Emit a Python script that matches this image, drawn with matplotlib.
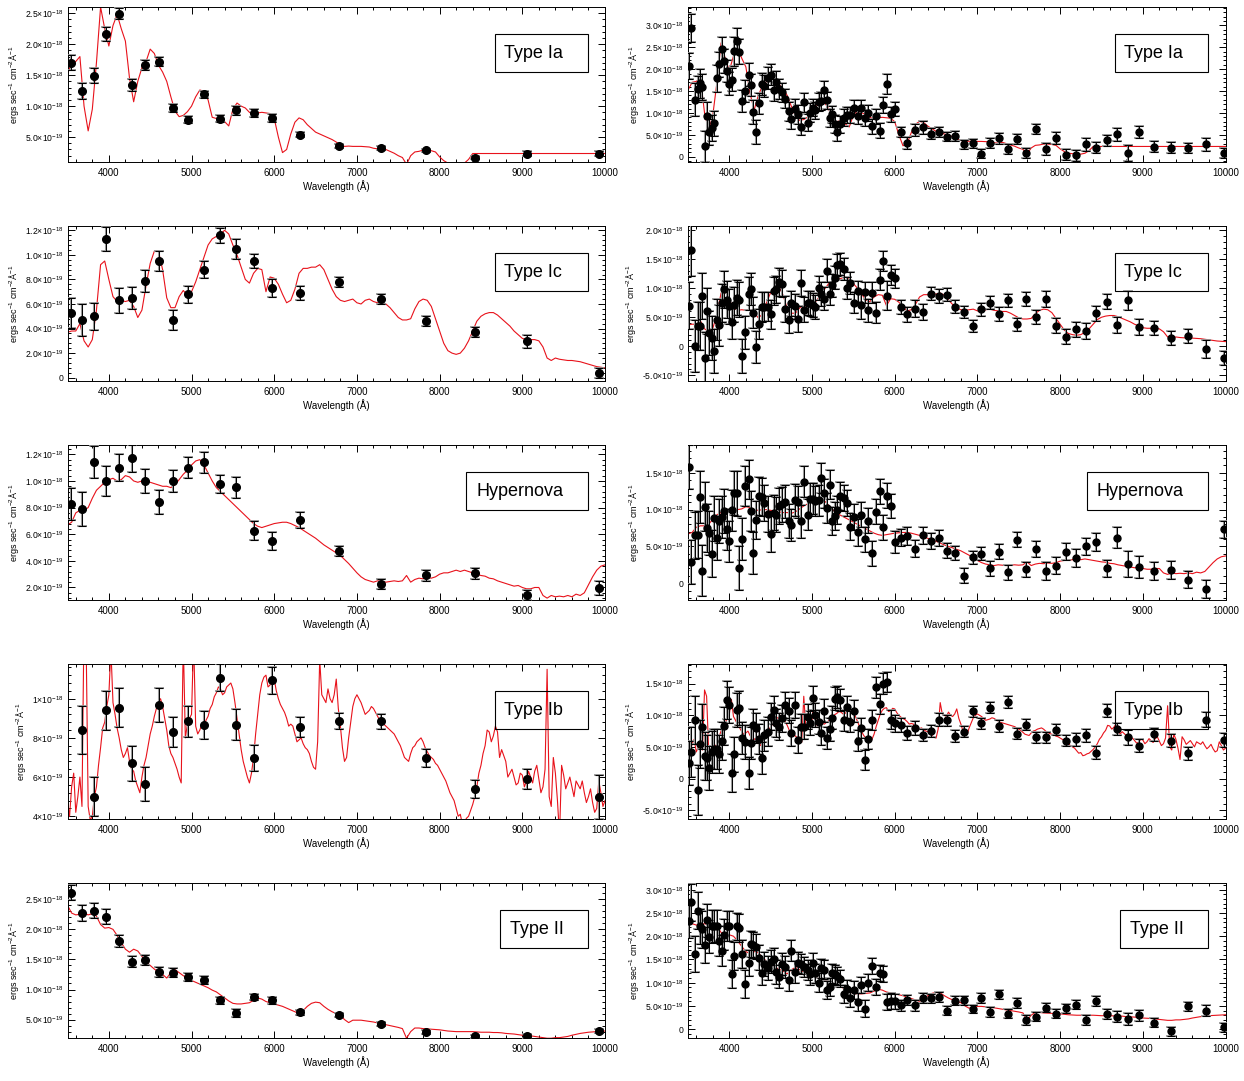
import matplotlib
matplotlib.use('Agg')
import numpy as np
import matplotlib.pyplot as plt
from matplotlib.ticker import MultipleLocator, FuncFormatter
from matplotlib.patches import Rectangle

plt.rcParams['font.family'] = ['Liberation Sans', 'DejaVu Sans']
plt.rcParams['mathtext.fontset'] = 'custom'
plt.rcParams['mathtext.rm'] = 'Liberation Sans'
plt.rcParams['mathtext.it'] = 'Liberation Sans:italic'

# all fluxes in units of 1e-18 ergs/s/cm^2/A

# ---- model spectra, sampled every 50 A from 3500 to 10000 ----
wl_model = list(range(3500, 10001, 50))
# the noisy Ib spectrum also has the in-between samples (3525, 3575, ...)
wl_model_mid = list(range(3525, 10000, 50))

model_ia = [1.52, 1.70, 1.72, 1.80, 1.00, 0.60, 0.95, 1.70, 2.60, 2.25,
            1.97, 2.30, 2.48, 2.25, 2.05, 1.45, 1.07, 1.40, 1.62, 1.72,
            1.92, 1.85, 1.66, 1.55, 1.40, 1.15, 0.92, 0.83, 0.85, 0.91,
            1.00, 1.15, 1.26, 1.24, 1.10, 0.82, 0.80, 0.83, 0.75, 0.68,
            0.95, 1.05, 1.00, 0.97, 0.90, 0.86, 0.89, 0.90, 0.89, 0.88,
            0.80, 0.50, 0.25, 0.30, 0.55, 0.74, 0.81, 0.78, 0.70, 0.64,
            0.58, 0.55, 0.52, 0.49, 0.46, 0.42, 0.37, 0.35, 0.355, 0.35,
            0.35, 0.35, 0.345, 0.34, 0.32, 0.31, 0.33, 0.30, 0.27, 0.24,
            0.20, 0.17, 0.06, 0.20, 0.26, 0.27, 0.29, 0.29, 0.28, 0.26,
            0.18, 0.12, 0.08, 0.07, 0.06, 0.06, 0.08, 0.14, 0.235, 0.235,
            0.235, 0.235, 0.235, 0.235, 0.235, 0.235, 0.235, 0.235, 0.235, 0.235,
            0.235, 0.235, 0.235, 0.235, 0.235, 0.235, 0.235, 0.235, 0.235, 0.235,
            0.235, 0.235, 0.235, 0.235, 0.235, 0.235, 0.235, 0.235, 0.235, 0.235,
            0.235]

model_ic = [0.37, 0.38, 0.38, 0.44, 0.30, 0.25, 0.31, 0.55, 0.92, 0.95,
            0.80, 0.66, 0.62, 0.63, 0.62, 0.63, 0.58, 0.49, 0.55, 0.75,
            0.93, 1.03, 1.03, 0.88, 0.65, 0.57, 0.57, 0.66, 0.71, 0.67,
            0.70, 0.78, 0.88, 0.98, 1.08, 1.13, 1.15, 1.17, 1.20, 1.17,
            1.08, 1.00, 0.90, 0.80, 0.77, 0.85, 0.89, 0.88, 0.70, 0.82,
            0.81, 0.76, 0.68, 0.61, 0.63, 0.72, 0.85, 0.89, 0.89, 0.90,
            0.90, 0.92, 0.88, 0.80, 0.72, 0.66, 0.63, 0.62, 0.63, 0.64,
            0.61, 0.60, 0.63, 0.64, 0.62, 0.61, 0.60, 0.60, 0.57, 0.53,
            0.49, 0.47, 0.47, 0.48, 0.56, 0.62, 0.64, 0.63, 0.58, 0.48,
            0.38, 0.28, 0.22, 0.20, 0.19, 0.20, 0.24, 0.30, 0.38, 0.46,
            0.50, 0.52, 0.53, 0.53, 0.51, 0.48, 0.45, 0.42, 0.38, 0.35,
            0.32, 0.31, 0.31, 0.31, 0.30, 0.25, 0.16, 0.14, 0.16, 0.15,
            0.145, 0.14, 0.14, 0.135, 0.13, 0.12, 0.11, 0.10, 0.09, 0.085,
            0.08]

model_hn = [0.67, 0.69, 0.76, 0.78, 0.78, 0.80, 0.87, 0.93, 0.96, 0.99,
            1.01, 1.02, 1.00, 1.01, 1.04, 1.03, 1.00, 0.99, 1.00, 1.00,
            0.99, 0.98, 0.97, 0.96, 0.96, 0.95, 0.97, 1.01, 1.05, 1.08,
            1.12, 1.15, 1.16, 1.12, 1.06, 1.00, 0.95, 0.92, 0.89, 0.86,
            0.83, 0.80, 0.77, 0.74, 0.71, 0.68, 0.66, 0.65, 0.66, 0.67,
            0.68, 0.685, 0.69, 0.69, 0.68, 0.665, 0.65, 0.63, 0.61, 0.59,
            0.57, 0.545, 0.52, 0.50, 0.48, 0.46, 0.44, 0.41, 0.38, 0.345,
            0.31, 0.28, 0.26, 0.25, 0.24, 0.25, 0.245, 0.24, 0.245, 0.25,
            0.245, 0.25, 0.29, 0.24, 0.26, 0.27, 0.265, 0.275, 0.27, 0.28,
            0.30, 0.31, 0.31, 0.32, 0.33, 0.32, 0.33, 0.32, 0.31, 0.30,
            0.29, 0.285, 0.27, 0.265, 0.25, 0.24, 0.23, 0.22, 0.21, 0.215,
            0.20, 0.19, 0.19, 0.20, 0.20, 0.14, 0.12, 0.14, 0.13, 0.135,
            0.13, 0.14, 0.13, 0.15, 0.14, 0.16, 0.22, 0.28, 0.33, 0.36,
            0.37]

model_ib = [0.48, 0.55, 0.42, 0.60, 1.40, 0.45, 0.40, 0.55, 0.75, 0.88,
            1.02, 0.98, 0.85, 0.74, 0.72, 0.68, 0.63, 0.55, 0.60, 0.70,
            0.82, 0.91, 0.98, 0.96, 0.84, 0.72, 0.67, 0.60, 1.30, 0.87,
            0.92, 0.86, 0.84, 0.86, 0.91, 0.97, 1.03, 1.05, 1.03, 1.07,
            1.05, 0.90, 0.74, 0.64, 0.57, 0.70, 0.92, 1.08, 1.12, 1.07,
            1.10, 1.00, 0.95, 0.90, 0.87, 0.82, 0.79, 0.77, 0.74, 0.68,
            0.64, 1.20, 1.00, 1.05, 0.98, 1.10, 0.86, 0.68, 0.80, 0.96,
            1.02, 0.98, 0.92, 0.94, 0.95, 0.91, 0.88, 0.86, 0.84, 0.82,
            0.78, 0.73, 0.69, 0.72, 0.76, 0.79, 0.78, 0.73, 0.70, 0.67,
            0.64, 0.60, 0.55, 0.50, 0.44, 0.41, 0.37, 0.40, 0.46, 0.55,
            0.66, 0.76, 0.83, 0.81, 0.83, 0.74, 0.68, 0.62, 0.60, 0.57,
            0.61, 0.58, 0.60, 0.63, 0.59, 0.55, 1.15, 0.45, 0.62, 0.30,
            0.61, 0.57, 0.55, 0.58, 0.54, 0.52, 0.50, 0.47, 0.44, 0.52,
            0.48]
model_ib_mid = [0.40, 0.62, 0.50, 0.45, 1.30, 0.38, 0.50, 0.66, 0.85, 0.96,
                1.25, 0.92, 0.80, 0.70, 0.75, 0.64, 0.58, 0.52, 0.66, 0.76,
                0.86, 0.95, 1.00, 0.90, 0.76, 0.70, 0.64, 0.57, 0.80, 0.90,
                1.30, 0.82, 0.87, 0.89, 0.95, 1.01, 1.06, 1.02, 1.06, 1.08,
                0.98, 0.82, 0.68, 0.60, 0.62, 0.82, 1.02, 1.11, 1.06, 1.11,
                1.04, 0.97, 0.93, 0.86, 0.86, 0.78, 0.80, 0.75, 0.72, 0.65,
                0.78, 1.02, 0.98, 1.00, 1.02, 0.95, 0.75, 0.70, 0.88, 1.00,
                1.00, 0.95, 0.93, 0.96, 0.93, 0.89, 0.87, 0.85, 0.83, 0.80,
                0.76, 0.70, 0.68, 0.75, 0.78, 0.80, 0.75, 0.71, 0.69, 0.66,
                0.62, 0.58, 0.52, 0.48, 0.40, 0.36, 0.39, 0.43, 0.50, 0.62,
                0.72, 0.84, 0.78, 0.86, 0.70, 0.71, 0.60, 0.64, 0.56, 0.62,
                0.55, 0.63, 0.57, 0.66, 0.52, 0.64, 0.50, 0.70, 0.48, 0.66,
                0.54, 0.60, 0.50, 0.56, 0.58, 0.47, 0.54, 0.42, 0.58, 0.45]

model_ii = [2.40, 2.27, 2.24, 2.25, 2.27, 2.24, 2.26, 2.22, 2.08, 2.02,
            2.03, 2.00, 1.90, 1.78, 1.67, 1.62, 1.67, 1.64, 1.55, 1.46,
            1.40, 1.34, 1.29, 1.25, 1.19, 1.28, 1.33, 1.28, 1.23, 1.19,
            1.15, 1.12, 1.09, 1.06, 1.03, 0.99, 0.96, 0.91, 0.86, 0.81,
            0.77, 0.76, 0.76, 0.77, 0.78, 0.82, 0.86, 0.84, 0.80, 0.78,
            0.76, 0.74, 0.72, 0.69, 0.66, 0.63, 0.60, 0.65, 0.72, 0.77,
            0.79, 0.78, 0.72, 0.67, 0.63, 0.60, 0.57, 0.50, 0.45, 0.49,
            0.49, 0.49, 0.48, 0.47, 0.46, 0.445, 0.43, 0.415, 0.40, 0.385,
            0.37, 0.35, 0.19, 0.30, 0.36, 0.36, 0.35, 0.345, 0.34, 0.335,
            0.33, 0.32, 0.31, 0.305, 0.30, 0.30, 0.30, 0.30, 0.30, 0.295,
            0.29, 0.29, 0.29, 0.285, 0.285, 0.28, 0.27, 0.265, 0.26, 0.25,
            0.24, 0.235, 0.23, 0.22, 0.21, 0.20, 0.19, 0.19, 0.20, 0.20,
            0.21, 0.22, 0.24, 0.255, 0.27, 0.28, 0.29, 0.295, 0.30, 0.305,
            0.31]

# ---- broad-band photometry (left column) ----
wl_broad = [3545, 3680, 3823, 3967, 4120, 4277, 4435, 4603, 4775, 4962, 5148,
            5344, 5541, 5751, 5967, 6306, 6780, 7287, 7837, 8426, 9057, 9923]

ia_l_flux = [1.70, 1.25, 1.49, 2.16, 2.49, 1.34, 1.66, 1.72, 0.97, 0.78, 1.19,
             0.80, 0.93, 0.89, 0.81, 0.54, 0.355, 0.32, 0.285, 0.17, 0.23, 0.23]
ia_l_err = [0.12, 0.13, 0.12, 0.11, 0.09, 0.09, 0.08, 0.08, 0.07, 0.06, 0.06,
            0.06, 0.07, 0.06, 0.06, 0.04, 0.03, 0.03, 0.03, 0.03, 0.04, 0.04]

ic_l_flux = [0.527, 0.47, 0.50, 1.13, 0.63, 0.65, 0.79, 0.95, 0.47, 0.68, 0.88,
             1.16, 1.05, 0.95, 0.73, 0.69, 0.78, 0.64, 0.46, 0.37, 0.295, 0.035]
ic_l_err = [0.12, 0.13, 0.11, 0.10, 0.10, 0.09, 0.09, 0.08, 0.08, 0.07, 0.07,
            0.06, 0.08, 0.06, 0.07, 0.06, 0.04, 0.04, 0.04, 0.04, 0.05, 0.04]

hn_l_flux = [0.826, 0.79, 1.14, 1.00, 1.10, 1.17, 1.00, 0.84, 1.00, 1.10, 1.14,
             0.976, 0.953, 0.627, 0.55, 0.71, 0.475, 0.225, 0.29, 0.307, 0.144, 0.195]
hn_l_err = [0.12, 0.13, 0.12, 0.11, 0.10, 0.10, 0.09, 0.09, 0.08, 0.08, 0.08,
            0.07, 0.08, 0.07, 0.07, 0.06, 0.04, 0.04, 0.04, 0.04, 0.04, 0.05]

ib_l_flux = [np.nan, 0.84, 0.50, 0.94, 0.954, 0.67, 0.563, 0.967, 0.83, 0.885, 0.864,
             1.108, 0.868, 0.696, 1.095, 0.856, 0.885, 0.885, 0.696, 0.538, 0.589, 0.498]
ib_l_err = [0.0, 0.123, 0.10, 0.10, 0.10, 0.09, 0.086, 0.085, 0.077, 0.08, 0.071,
            0.07, 0.08, 0.067, 0.069, 0.05, 0.04, 0.038, 0.045, 0.045, 0.05, 0.11]

ii_l_flux = [2.61, 2.27, 2.31, 2.21, 1.81, 1.46, 1.49, 1.29, 1.28, 1.21, 1.16,
             0.82, 0.61, 0.87, 0.82, 0.62, 0.58, 0.43, 0.29, 0.22, 0.23, 0.31]
ii_l_err = [0.12, 0.13, 0.12, 0.12, 0.10, 0.09, 0.09, 0.08, 0.08, 0.07, 0.07,
            0.06, 0.06, 0.05, 0.06, 0.04, 0.03, 0.03, 0.03, 0.02, 0.03, 0.03]

# ---- narrow-band photometry (right column) ----
wl_narrow_blue = [3515, 3540, 3585, 3615, 3645, 3674, 3700, 3726, 3755, 3787,
                  3820, 3847, 3876, 3908, 3940, 3968, 4001, 4029, 4062, 4090,
                  4122, 4159, 4191, 4232, 4264, 4292, 4324, 4361, 4393, 4422,
                  4462, 4503, 4535, 4568, 4604, 4636, 4677, 4717, 4750, 4790,
                  4826, 4867, 4907, 4948, 4980, 5013, 5041, 5081, 5110, 5142,
                  5182, 5215, 5243, 5275, 5303, 5344, 5384, 5425, 5465, 5506,
                  5554, 5594, 5639, 5679, 5728, 5768, 5821, 5862, 5902, 5959,
                  6003, 6072]
wl_narrow_red = [6149, 6245, 6341, 6438, 6534, 6635, 6731, 6837, 6942, 7043,
                 7154, 7260, 7370, 7476, 7587, 7707, 7827, 7947, 8067, 8188,
                 8312, 8437, 8567, 8688, 8822, 8957, 9130, 9337, 9543, 9764, 9986]

ia_r_flux = [2.08, 2.95, 1.30, 1.55, 1.68, 1.60, 0.24, 0.92, 0.56, 0.66,
             0.76, 1.79, 2.11, 2.46, 2.19, 1.96, 1.67, 1.76, 2.41, 2.64,
             2.40, 1.28, 1.50, 1.87, 1.63, 1.02, 0.57, 1.22, 1.66, 1.61,
             1.79, 1.87, 1.53, 1.71, 1.54, 1.47, 1.33, 1.04, 0.86, 1.10,
             0.97, 0.69, 1.24, 0.78, 1.01, 1.12, 1.06, 1.25, 1.28, 1.52,
             1.29, 0.89, 0.97, 0.75, 0.56, 0.74, 0.89, 0.95, 0.95, 1.12,
             0.93, 1.12, 0.89, 1.00, 0.70, 0.92, 0.59, 1.18, 1.66, 0.97,
             1.08, 0.56,
             0.31, 0.61, 0.67, 0.53, 0.57, 0.46, 0.47, 0.28, 0.31, 0.07,
             0.32, 0.42, 0.18, 0.40, 0.08, 0.63, 0.17, 0.43, 0.05, 0.03,
             0.28, 0.21, 0.375, 0.51, 0.09, 0.57, 0.23, 0.21, 0.20, 0.28, 0.08]
ia_r_err = [0.30, 0.32, 0.38, 0.30, 0.33, 0.30, 0.35, 0.33, 0.30, 0.30,
            0.28, 0.30, 0.28, 0.27, 0.28, 0.25, 0.27, 0.26, 0.33, 0.30,
            0.28, 0.25, 0.25, 0.26, 0.25, 0.28, 0.27, 0.24, 0.26, 0.25,
            0.25, 0.24, 0.25, 0.24, 0.23, 0.22, 0.22, 0.22, 0.22, 0.22,
            0.22, 0.20, 0.22, 0.20, 0.21, 0.20, 0.20, 0.21, 0.21, 0.20,
            0.20, 0.20, 0.19, 0.20, 0.20, 0.19, 0.19, 0.18, 0.19, 0.18,
            0.19, 0.18, 0.18, 0.18, 0.17, 0.17, 0.17, 0.18, 0.23, 0.17,
            0.16, 0.12,
            0.13, 0.14, 0.14, 0.12, 0.12, 0.11, 0.11, 0.11, 0.10, 0.11,
            0.11, 0.12, 0.11, 0.11, 0.12, 0.12, 0.14, 0.13, 0.13, 0.13,
            0.14, 0.13, 0.13, 0.14, 0.18, 0.14, 0.12, 0.12, 0.12, 0.15, 0.12]

ic_r_flux = [0.70, 1.66, 0.00, 0.35, 0.35, 0.87, -0.20, 0.61, 0.23, 0.14,
             -0.09, 0.46, 0.36, 0.75, 0.98, 0.80, 0.69, 0.42, 0.72, 0.84,
             0.80, -0.17, 0.24, 0.91, 0.99, 0.58, -0.01, 0.39, 0.68, 0.68,
             0.68, 0.55, 0.95, 0.98, 1.11, 1.08, 0.64, 0.45, 0.74, 0.69,
             0.47, 1.09, 0.63, 0.75, 0.74, 0.71, 0.68, 1.00, 0.90, 0.82,
             1.30, 0.91, 1.05, 1.18, 1.40, 1.42, 1.34, 1.00, 1.09, 0.75,
             0.95, 0.72, 0.93, 0.62, 0.92, 0.58, 1.15, 1.47, 0.87, 1.23,
             1.17, 0.68,
             0.55, 0.65, 0.59, 0.91, 0.87, 0.89, 0.68, 0.59, 0.35, 0.64,
             0.75, 0.55, 0.79, 0.38, 0.82, 0.50, 0.82, 0.35, 0.16, 0.29,
             0.26, 0.57, 0.77, 0.36, 0.79, 0.33, 0.31, 0.14, 0.17, -0.05, -0.21]
ic_r_err = [0.40, 0.45, 0.45, 0.42, 0.42, 0.40, 0.45, 0.40, 0.38, 0.38,
            0.38, 0.35, 0.35, 0.33, 0.32, 0.32, 0.30, 0.30, 0.30, 0.30,
            0.30, 0.30, 0.28, 0.28, 0.28, 0.27, 0.28, 0.26, 0.26, 0.25,
            0.25, 0.25, 0.24, 0.24, 0.24, 0.23, 0.23, 0.23, 0.22, 0.22,
            0.22, 0.22, 0.22, 0.21, 0.21, 0.21, 0.21, 0.21, 0.20, 0.20,
            0.20, 0.20, 0.20, 0.20, 0.19, 0.19, 0.19, 0.19, 0.19, 0.18,
            0.18, 0.25, 0.18, 0.20, 0.18, 0.18, 0.18, 0.18, 0.25, 0.18,
            0.17, 0.12,
            0.13, 0.15, 0.14, 0.12, 0.12, 0.11, 0.11, 0.11, 0.10, 0.11,
            0.11, 0.12, 0.11, 0.11, 0.12, 0.12, 0.14, 0.13, 0.13, 0.13,
            0.14, 0.13, 0.13, 0.14, 0.17, 0.14, 0.12, 0.12, 0.12, 0.15, 0.12]

hn_r_flux = [1.58, 0.29, 0.65, 0.66, 1.17, 0.17, 1.04, 0.75, 0.68, 0.40,
             0.88, 0.61, 0.85, 0.90, 0.98, 0.73, 0.57, 0.99, 1.23, 1.22,
             0.21, 0.60, 1.32, 1.41, 0.98, 0.41, 0.86, 1.19, 1.17, 1.09,
             0.94, 0.67, 0.96, 0.93, 1.05, 1.07, 1.11, 0.85, 0.79, 1.13,
             1.10, 0.84, 1.38, 0.93, 1.15, 1.15, 1.12, 1.13, 1.43, 1.22,
             1.02, 1.34, 0.84, 0.91, 1.00, 1.19, 1.16, 1.09, 0.77, 0.90,
             0.69, 0.93, 0.60, 0.85, 0.41, 0.97, 1.25, 0.76, 1.19, 1.05,
             0.56, 0.62,
             0.64, 0.47, 0.65, 0.57, 0.61, 0.44, 0.41, 0.10, 0.35, 0.40,
             0.20, 0.43, 0.15, 0.59, 0.19, 0.46, 0.17, 0.24, 0.43, 0.34,
             0.50, 0.56, 0.20, 0.62, 0.26, 0.22, 0.17, 0.18, 0.05, -0.08, 0.73]
hn_r_err = [0.30, 0.30, 0.32, 0.32, 0.35, 0.35, 0.33, 0.33, 0.30, 0.32,
            0.30, 0.30, 0.30, 0.28, 0.30, 0.28, 0.28, 0.28, 0.30, 0.30,
            0.30, 0.28, 0.27, 0.27, 0.27, 0.28, 0.26, 0.26, 0.26, 0.25,
            0.25, 0.25, 0.24, 0.24, 0.24, 0.24, 0.23, 0.23, 0.22, 0.22,
            0.22, 0.22, 0.21, 0.21, 0.21, 0.21, 0.20, 0.21, 0.20, 0.20,
            0.20, 0.20, 0.19, 0.19, 0.19, 0.19, 0.18, 0.18, 0.18, 0.18,
            0.18, 0.17, 0.17, 0.17, 0.17, 0.17, 0.17, 0.17, 0.17, 0.16,
            0.15, 0.12,
            0.12, 0.12, 0.12, 0.11, 0.11, 0.10, 0.10, 0.10, 0.09, 0.09,
            0.10, 0.10, 0.10, 0.10, 0.10, 0.11, 0.12, 0.11, 0.12, 0.12,
            0.12, 0.12, 0.12, 0.14, 0.18, 0.15, 0.12, 0.12, 0.12, 0.12, 0.12]

ib_r_flux = [0.24, 0.42, 0.93, -0.18, 0.55, 0.82, 0.35, 0.33, 0.17, 0.42,
             0.47, 0.47, 0.38, 0.60, 0.83, 1.24, 1.16, 0.09, 0.38, 1.08,
             1.11, 0.64, 0.58, 0.09, 0.56, 0.85, 0.80, 0.62, 0.32, 0.68,
             0.74, 0.98, 1.08, 0.88, 0.82, 0.95, 1.16, 1.07, 0.72, 1.16,
             0.61, 0.82, 0.82, 0.98, 0.88, 1.28, 1.00, 0.90, 0.72, 1.07,
             0.64, 0.78, 0.96, 1.26, 1.29, 1.24, 0.92, 1.13, 0.90, 1.07,
             0.60, 0.80, 0.29, 0.62, 0.93, 1.44, 1.18, 1.50, 1.53, 0.93,
             0.87, 0.84,
             0.72, 0.80, 0.69, 0.75, 0.93, 0.92, 0.67, 0.74, 1.06, 0.87,
             1.12, 0.83, 1.21, 0.71, 0.85, 0.65, 0.65, 0.77, 0.60, 0.62,
             0.68, 0.41, 1.07, 0.78, 0.65, 0.52, 0.70, 0.60, 0.40, 0.93, 0.61]
ib_r_err = [0.35, 0.40, 0.38, 0.40, 0.38, 0.35, 0.38, 0.36, 0.35, 0.33,
            0.32, 0.32, 0.30, 0.30, 0.30, 0.30, 0.28, 0.30, 0.28, 0.27,
            0.27, 0.26, 0.27, 0.25, 0.25, 0.25, 0.24, 0.24, 0.25, 0.24,
            0.23, 0.22, 0.22, 0.22, 0.21, 0.21, 0.21, 0.20, 0.21, 0.20,
            0.20, 0.20, 0.20, 0.19, 0.19, 0.19, 0.19, 0.19, 0.19, 0.18,
            0.18, 0.18, 0.18, 0.18, 0.18, 0.17, 0.17, 0.17, 0.17, 0.17,
            0.17, 0.16, 0.16, 0.16, 0.16, 0.16, 0.16, 0.16, 0.16, 0.15,
            0.14, 0.11,
            0.11, 0.11, 0.10, 0.10, 0.10, 0.09, 0.09, 0.09, 0.09, 0.09,
            0.09, 0.09, 0.09, 0.09, 0.09, 0.09, 0.09, 0.09, 0.09, 0.10,
            0.10, 0.10, 0.10, 0.10, 0.12, 0.10, 0.10, 0.10, 0.10, 0.12, 0.11]

ii_r_flux = [2.32, 2.73, 1.62, 2.55, 2.21, 2.15, 1.81, 2.34, 1.99, 2.21,
             2.22, 2.22, 1.90, 1.69, 2.03, 2.22, 2.22, 1.18, 1.57, 2.21,
             2.17, 1.62, 0.97, 1.43, 1.83, 1.81, 1.77, 1.54, 1.20, 1.41,
             1.31, 1.45, 1.50, 1.23, 1.13, 1.40, 1.34, 1.05, 1.69, 1.23,
             1.43, 1.40, 1.34, 1.27, 1.18, 1.43, 1.20, 1.00, 1.31, 1.28,
             0.84, 0.91, 1.20, 1.18, 1.14, 1.09, 0.76, 0.87, 0.66, 0.84,
             0.58, 0.95, 0.44, 1.00, 1.36, 0.91, 1.21, 1.18, 0.58, 0.60,
             0.60, 0.51,
             0.62, 0.51, 0.67, 0.66, 0.69, 0.40, 0.61, 0.62, 0.44, 0.67,
             0.37, 0.75, 0.33, 0.56, 0.20, 0.27, 0.46, 0.33, 0.45, 0.53,
             0.20, 0.61, 0.32, 0.27, 0.22, 0.30, 0.14, -0.05, 0.49, 0.40, 0.04]
ii_r_err = [0.35, 0.40, 0.38, 0.40, 0.38, 0.40, 0.38, 0.36, 0.35, 0.35,
            0.35, 0.35, 0.33, 0.33, 0.33, 0.32, 0.32, 0.30, 0.30, 0.30,
            0.30, 0.30, 0.30, 0.28, 0.28, 0.27, 0.27, 0.27, 0.26, 0.26,
            0.26, 0.25, 0.25, 0.25, 0.24, 0.24, 0.24, 0.23, 0.23, 0.23,
            0.23, 0.22, 0.22, 0.22, 0.22, 0.21, 0.21, 0.21, 0.21, 0.21,
            0.20, 0.20, 0.20, 0.20, 0.20, 0.19, 0.19, 0.19, 0.19, 0.19,
            0.19, 0.18, 0.18, 0.18, 0.18, 0.18, 0.18, 0.17, 0.17, 0.17,
            0.16, 0.12,
            0.11, 0.11, 0.11, 0.10, 0.10, 0.10, 0.10, 0.10, 0.09, 0.10,
            0.10, 0.10, 0.10, 0.10, 0.10, 0.10, 0.10, 0.10, 0.10, 0.10,
            0.11, 0.11, 0.11, 0.12, 0.13, 0.12, 0.10, 0.10, 0.09, 0.11, 0.10]

wl_narrow = wl_narrow_blue + wl_narrow_red

# merge the Ib samples into one wavelength-ordered spectrum
ib_wl_all = np.array(wl_model + wl_model_mid)
ib_fl_all = np.array(model_ib + model_ib_mid)
order = np.argsort(ib_wl_all)
ib_spec = (ib_wl_all[order], ib_fl_all[order])

spec_ia = (wl_model, model_ia)
spec_ic = (wl_model, model_ic)
spec_hn = (wl_model, model_hn)
spec_ii = (wl_model, model_ii)


def sci_fmt(ndec):
    def f(v, pos):
        if abs(v) < 1e-9:
            return '0'
        if abs(v) >= 0.999:
            mant, ex = v, 18
        else:
            mant, ex = v * 10, 19
        return f'{mant:.{ndec}f}' + r'$\times$10$^{-' + str(ex) + '}$'
    return f


def draw_panel(ax, spec, wl_pts, flux, err, ylim, ystep, label, box_x0, ms, ndec=1):
    ax.plot(spec[0], spec[1], color='#e8121b', lw=0.8, zorder=2)
    ax.errorbar(wl_pts, flux, yerr=err, fmt='none', ecolor='0.6',
                elinewidth=1.5, capsize=3.5, capthick=1.3, zorder=3)
    ax.errorbar(wl_pts, flux, yerr=err, fmt='o', color='black', ms=ms,
                elinewidth=0.7, capsize=3, capthick=0.8, zorder=4)
    ax.set_xlim(3500, 10000)
    ax.set_ylim(*ylim)
    ax.xaxis.set_major_locator(MultipleLocator(1000))
    ax.xaxis.set_minor_locator(MultipleLocator(200))
    ax.yaxis.set_major_locator(MultipleLocator(ystep))
    ax.yaxis.set_minor_locator(MultipleLocator(ystep / 5))
    ax.yaxis.set_major_formatter(FuncFormatter(sci_fmt(ndec)))
    ax.tick_params(which='both', direction='in', top=True, right=True, width=0.7)
    ax.tick_params(which='major', length=5)
    ax.tick_params(which='minor', length=2.5)
    ax.tick_params(axis='x', labelsize=7, pad=4)
    ax.tick_params(axis='y', labelsize=6.2, pad=3)
    for sp in ax.spines.values():
        sp.set_linewidth(0.7)
    ax.set_xlabel('Wavelength (Å)', fontsize=7, labelpad=2)
    ax.set_ylabel(r'ergs sec$^{-1}$ cm$^{-2}$Å$^{-1}$', fontsize=6.5, labelpad=3)
    ax.add_patch(Rectangle((box_x0, 0.578), 0.968 - box_x0, 0.25, transform=ax.transAxes,
                           fill=False, lw=0.8, edgecolor='black', zorder=5))
    ax.text(box_x0 + 0.018, 0.703, label, transform=ax.transAxes,
            ha='left', va='center', fontsize=13, zorder=6)


fig = plt.figure(figsize=(12.44, 10.81), dpi=100)
W, H = 1244, 1081

def make_ax(col, row):
    x0 = 67.5 if col == 0 else 688
    top = 7 + 219 * row
    return fig.add_axes([x0 / W, 1 - (top + 155) / H, 537.5 / W, 155 / H])

# row 1: Type Ia
draw_panel(make_ax(0, 0), spec_ia, wl_broad, ia_l_flux, ia_l_err,
           (0.098, 2.6), 0.5, 'Type Ia', 0.795, 5.5)
draw_panel(make_ax(1, 0), spec_ia, wl_narrow, ia_r_flux, ia_r_err,
           (-0.12, 3.42), 0.5, 'Type Ia', 0.794, 5.0)
# row 2: Type Ic
draw_panel(make_ax(0, 1), spec_ic, wl_broad, ic_l_flux, ic_l_err,
           (-0.027, 1.235), 0.2, 'Type Ic', 0.795, 5.5)
draw_panel(make_ax(1, 1), spec_ic, wl_narrow, ic_r_flux, ic_r_err,
           (-0.6, 2.075), 0.5, 'Type Ic', 0.794, 5.0)
# row 3: Hypernova
draw_panel(make_ax(0, 2), spec_hn, wl_broad, hn_l_flux, hn_l_err,
           (0.106, 1.27), 0.2, 'Hypernova', 0.742, 5.5)
draw_panel(make_ax(1, 2), spec_hn, wl_narrow, hn_r_flux, hn_r_err,
           (-0.228, 1.878), 0.5, 'Hypernova', 0.742, 5.0)
# row 4: Type Ib
draw_panel(make_ax(0, 3), ib_spec, wl_broad, ib_l_flux, ib_l_err,
           (0.386, 1.177), 0.2, 'Type Ib', 0.795, 5.5, ndec=0)
draw_panel(make_ax(1, 3), ib_spec, wl_narrow, ib_r_flux, ib_r_err,
           (-0.64, 1.81), 0.5, 'Type Ib', 0.794, 5.0)
# row 5: Type II
draw_panel(make_ax(0, 4), spec_ii, wl_broad, ii_l_flux, ii_l_err,
           (0.194, 2.77), 0.5, 'Type II', 0.805, 5.5)
draw_panel(make_ax(1, 4), spec_ii, wl_narrow, ii_r_flux, ii_r_err,
           (-0.19, 3.145), 0.5, 'Type II', 0.804, 5.0)

fig.savefig('out.png', dpi=100)
